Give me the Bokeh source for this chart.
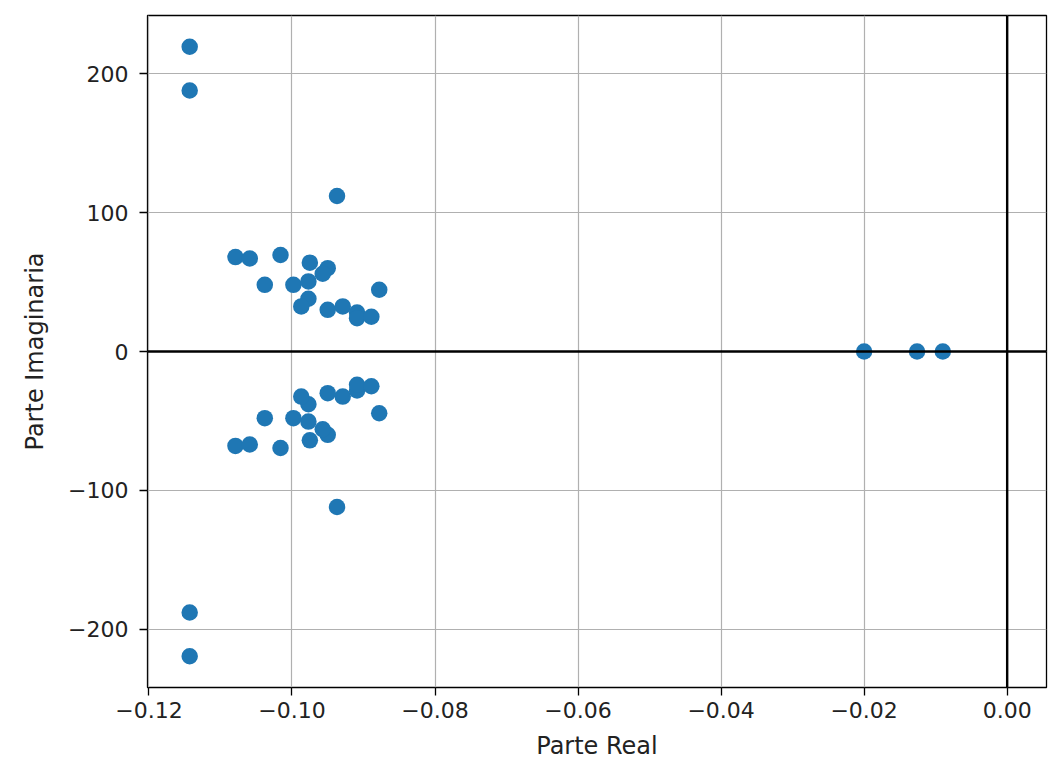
from bokeh.plotting import figure
from bokeh.models import ColumnDataSource, Span, FixedTicker, Range1d
from bokeh.embed import file_html
from bokeh.resources import INLINE

# upper-half poles (conjugates mirrored below)
upper_re = [-0.1143, -0.1143, -0.0937, -0.1079, -0.1059, -0.1016, -0.0975, -0.0950,
            -0.0957, -0.1038, -0.0998, -0.0977, -0.0878, -0.0977, -0.0987, -0.0950,
            -0.0929, -0.0909, -0.0909, -0.0889]
upper_im = [219.5, 188.0, 112.0, 68.0, 67.0, 69.5, 64.0, 60.0,
            56.0, 48.0, 48.0, 50.5, 44.5, 38.0, 32.5, 30.0,
            32.5, 28.0, 24.0, 25.0]
real_re = [-0.0200, -0.0126, -0.0090]
real_im = [0.0, 0.0, 0.0]

xs = upper_re + upper_re + real_re
ys = upper_im + [-v for v in upper_im] + real_im

x_ticks = [-0.12, -0.10, -0.08, -0.06, -0.04, -0.02, 0.0]
x_labels = ["\u22120.12", "\u22120.10", "\u22120.08", "\u22120.06", "\u22120.04", "\u22120.02", "0.00"]
y_ticks = [-200, -100, 0, 100, 200]
y_labels = ["\u2212200", "\u2212100", "0", "100", "200"]

W, H = 1059, 778
p = figure(width=W, height=H, output_backend="svg", toolbar_location=None,
           x_range=Range1d(-0.1202, 0.0055), y_range=Range1d(-242, 242))
p.min_border_left = 147
p.min_border_right = 13
p.min_border_top = 15
p.min_border_bottom = 91
p.background_fill_color = "white"
p.border_fill_color = "white"
p.outline_line_color = "black"
p.outline_line_width = 1.3

src = ColumnDataSource(dict(x=xs, y=ys))

for ax in (p.xaxis[0], p.yaxis[0]):
    ax.axis_line_color = None
    ax.minor_tick_line_color = None
    ax.major_tick_out = 8
    ax.major_tick_in = 0
    ax.major_tick_line_color = "black"
    ax.major_tick_line_width = 1.3
    ax.major_label_text_font = "DejaVu Sans"
    ax.major_label_text_font_size = "22px"
    ax.major_label_text_color = "#222222"
    ax.axis_label_text_font = "DejaVu Sans"
    ax.axis_label_text_font_size = "24px"
    ax.axis_label_text_font_style = "normal"
    ax.axis_label_text_color = "#222222"

p.xaxis.ticker = FixedTicker(ticks=x_ticks)
p.xaxis.major_label_overrides = dict(zip(x_ticks, x_labels))
p.yaxis.ticker = FixedTicker(ticks=y_ticks)
p.yaxis.major_label_overrides = dict(zip(y_ticks, y_labels))
p.xaxis.axis_label = "Parte Real"
p.yaxis.axis_label = "Parte Imaginaria"
p.xaxis.major_label_standoff = 6
p.yaxis.major_label_standoff = 11
p.xaxis.axis_label_standoff = 11
p.yaxis.axis_label_standoff = 16

p.grid.grid_line_color = "#b0b0b0"
p.grid.grid_line_width = 1.2

p.add_layout(Span(location=0, dimension="width", line_color="black", line_width=2.4))
p.add_layout(Span(location=0, dimension="height", line_color="black", line_width=2.4))

p.scatter("x", "y", source=src, size=16.5, fill_color="#1f77b4", line_color="#1f77b4",
          line_width=0)

open("out.html", "w").write(file_html(p, INLINE))
